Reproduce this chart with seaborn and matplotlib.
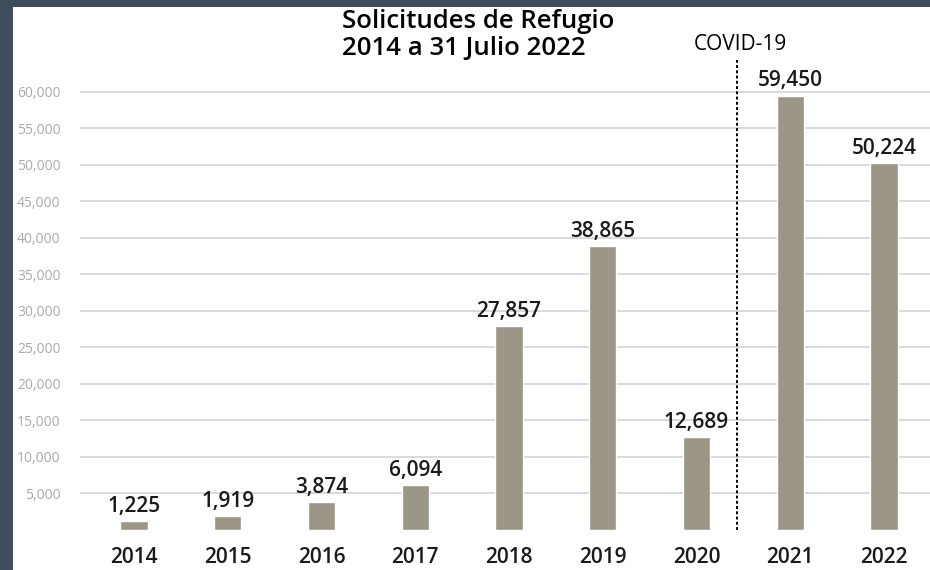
import matplotlib
matplotlib.use("Agg")
import matplotlib.pyplot as plt
import seaborn as sns
import pandas as pd
from matplotlib.patches import Rectangle
from matplotlib.ticker import FuncFormatter

# data
years = ["2014", "2015", "2016", "2017", "2018", "2019", "2020", "2021", "2022"]
requests = [1225, 1919, 3874, 6094, 27857, 38865, 12689, 59450, 50224]
y_ticks = [5000, 10000, 15000, 20000, 25000, 30000, 35000, 40000,
           45000, 50000, 55000, 60000]

title = "Solicitudes de Refugio\n2014 a 31 Julio 2022"
covid_label = "COVID-19"
covid_pos = 6.43  # between 2020 and 2021

W, H = 930, 570

sns.set_theme(style="white")
plt.rcParams["font.family"] = ["Open Sans", "DejaVu Sans"]

df = pd.DataFrame({"year": years, "value": requests})

fig = plt.figure(figsize=(W / 100, H / 100), dpi=100)
fig.patch.set_facecolor("#3e4c5b")
fig.patches.append(
    Rectangle((13 / W, 0), 1 - 13 / W, 1 - 7 / H, transform=fig.transFigure,
              facecolor="white", edgecolor="none", zorder=-1)
)

ax_left, ax_bottom, ax_top = 80 / W, 1 - 530 / H, 1 - 77 / H
ax = fig.add_axes([ax_left, ax_bottom, 1 - ax_left, ax_top - ax_bottom])
ax.set_facecolor("none")

sns.barplot(data=df, x="year", y="value", color="#9b9686", width=0.29,
            saturation=1, ax=ax, zorder=3)

ax.set_xlim(-0.576, 8.49)
ax.set_ylim(0, 62000)
ax.set_yticks(y_ticks)
ax.yaxis.set_major_formatter(FuncFormatter(lambda v, p: f"{int(v):,}"))
ax.grid(axis="y", color="#d9d9d9", linewidth=1.4, zorder=0)
ax.grid(axis="x", visible=False)
sns.despine(ax=ax, left=True, bottom=True)

ax.tick_params(axis="y", length=0, pad=14, labelsize=10, labelcolor="#aaaaaa")
ax.tick_params(axis="x", length=0, pad=12, labelsize=15, labelcolor="#1a1a1a")
for lab in ax.get_xticklabels():
    lab.set_fontweight("semibold")
ax.set_xlabel("")
ax.set_ylabel("")

for i, v in enumerate(requests):
    ax.annotate(f"{v:,}", (i, v), xytext=(0, 3), textcoords="offset points",
                ha="center", va="bottom", fontsize=15, fontweight="semibold",
                color="#1a1a1a", zorder=5)

# covid marker
ax.axvline(covid_pos, ymin=0, ymax=(530 - 60) / (530 - 77), color="black",
           linewidth=1.4, linestyle=(0, (1.5, 1.2)), clip_on=False, zorder=4)
fig.text(740 / W, 1 - 45 / H, covid_label, ha="center", va="center",
         fontsize=15, color="black")

fig.text(342 / W, 1 - 9 / H, title, ha="left", va="top", fontsize=18.5,
         fontweight="semibold", color="black", linespacing=1.1,
         multialignment="left")

fig.savefig("out.png", dpi=100, facecolor=fig.get_facecolor())
